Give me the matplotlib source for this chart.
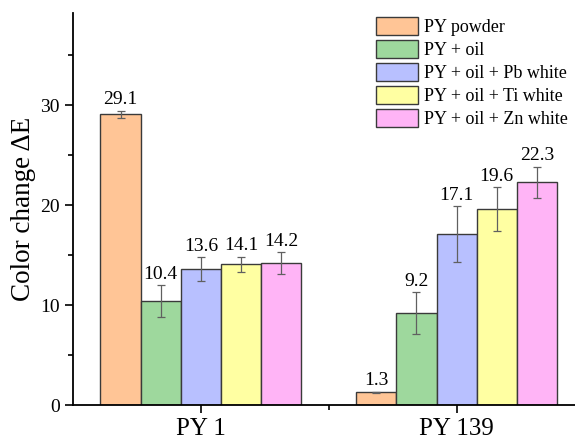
import matplotlib
matplotlib.use("Agg")
import matplotlib.pyplot as plt
import numpy as np
from matplotlib.ticker import MultipleLocator, FixedLocator

plt.rcParams['font.family'] = ['Liberation Serif', 'DejaVu Serif']
plt.rcParams['mathtext.fontset'] = 'stix'

groups = ["PY 1", "PY 139"]
series = ["PY powder", "PY + oil", "PY + oil + Pb white",
          "PY + oil + Ti white", "PY + oil + Zn white"]
values = [
    [29.1, 1.3],
    [10.4, 9.2],
    [13.6, 17.1],
    [14.1, 19.6],
    [14.2, 22.3],
]
errors = [
    [0.35, 0.05],
    [1.6, 2.1],
    [1.2, 2.8],
    [0.75, 2.2],
    [1.1, 1.55],
]
colors = ["#FFC596", "#9ED89D", "#B8C0FF", "#FFFFA2", "#FFB4F6"]

fig = plt.figure(figsize=(5.75, 4.4), dpi=100)
ax = fig.add_axes([73 / 575, 35 / 440, 511.5 / 575, 392 / 440])

x = np.arange(len(groups))
n = len(series)
bw = 0.157
for i, (name, vals, errs, c) in enumerate(zip(series, values, errors, colors)):
    pos = x + (i - (n - 1) / 2) * bw
    ax.bar(pos, vals, width=bw, color=c, edgecolor="#3a3a3a", linewidth=1.0,
           label=name, zorder=2)
    ax.errorbar(pos, vals, yerr=errs, fmt="none", ecolor="#606060",
                elinewidth=0.9, capsize=3.2, capthick=0.9, zorder=3)
    for p, v, e in zip(pos, vals, errs):
        ax.text(p, v + e + 0.25, f"{v:.1f}", ha="center", va="bottom",
                fontsize=14, zorder=4)

ax.set_xlim(-0.5, 1.5)
ax.set_ylim(0, 39.2)
ax.set_xticks(x)
ax.set_xticklabels(groups, fontsize=18)
ax.xaxis.set_minor_locator(FixedLocator([0.5]))
ax.yaxis.set_major_locator(MultipleLocator(10))
ax.yaxis.set_minor_locator(MultipleLocator(5))
ax.tick_params(axis="y", labelsize=14)
ax.tick_params(which="major", length=6, width=1.2, direction="out")
ax.tick_params(which="minor", length=3.5, width=1.2, direction="out")
ax.tick_params(axis="x", pad=3)

ax.set_ylabel("Color change ΔE", fontsize=19.5, labelpad=3)

for s in ["top", "right"]:
    ax.spines[s].set_visible(False)
for s in ["left", "bottom"]:
    ax.spines[s].set_linewidth(1.3)

leg = ax.legend(loc="upper left", bbox_to_anchor=(376 / 575, 1 - 17 / 440),
                bbox_transform=fig.transFigure, frameon=False, fontsize=13,
                handlelength=2.3, handleheight=1.15, handletextpad=0.35,
                labelspacing=0.22, borderpad=0, borderaxespad=0)
for h in leg.legend_handles:
    h.set_edgecolor("#3a3a3a")
    h.set_linewidth(1.0)

fig.savefig("out.png", dpi=100)
